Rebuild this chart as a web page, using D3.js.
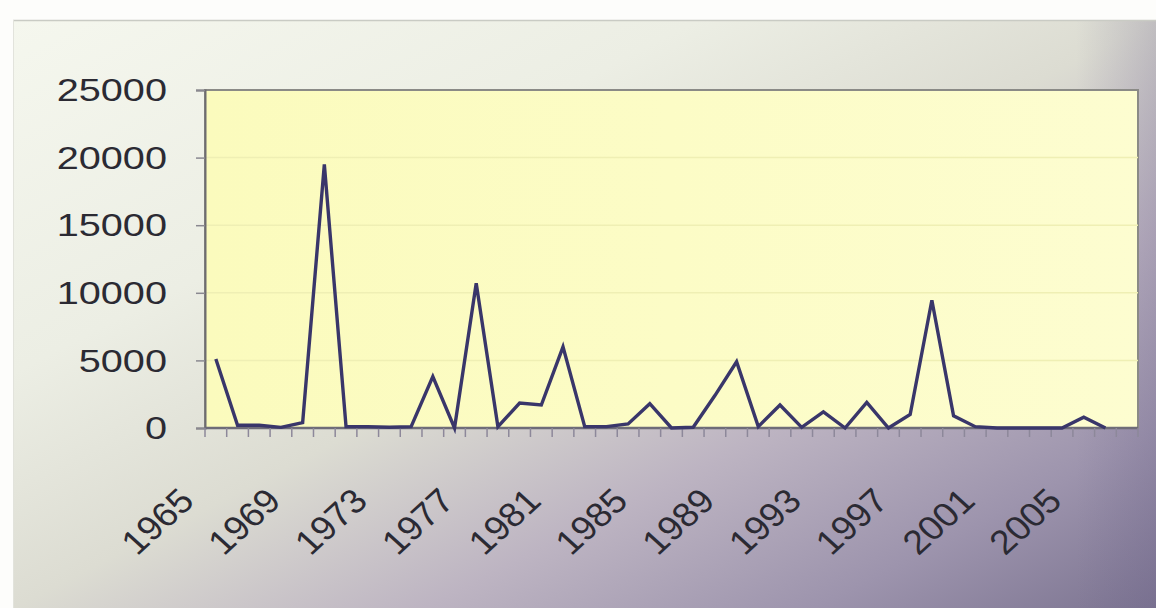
<!DOCTYPE html>
<html>
<head>
<meta charset="utf-8">
<script src="https://cdn.jsdelivr.net/npm/d3@7/dist/d3.min.js"></script>
<style>
  html, body { margin: 0; padding: 0; background: #fdfdfc; }
  svg { display: block; }
  text { font-family: "Liberation Sans", Arial, sans-serif; fill: #2b2a33; }
</style>
</head>
<body>
<svg id="chart" width="1156" height="608"></svg>
<script>
// Yearly values, 1965–2007 (no reading for 2007)
const years = d3.range(1965, 2008);
const values = [
  5100, 200, 200, 50, 400, 19500, 100, 100, 50, 100,
  3800, 0, 10700, 100, 1850, 1700, 6000, 100, 100, 300,
  1800, 0, 50, 2400, 4900, 100, 1700, 50, 1200, 0,
  1900, 0, 1000, 9450, 900, 100, 0, 0, 0, 0,
  800, 0, null
];
const yTicks = [0, 5000, 10000, 15000, 20000, 25000];
const xLabelYears = d3.range(1965, 2008, 4);

const svg = d3.select("#chart");
const W = 1156, H = 608;
const plot = { left: 205, right: 1138, top: 90, bottom: 428 };

// Page background: pale at the upper left, grey-violet towards the lower right
const defs = svg.append("defs");
const bg = defs.append("linearGradient").attr("id", "bg")
  .attr("x1", "0%").attr("y1", "0%").attr("x2", "100%").attr("y2", "100%");
[["0%", "#f5f7ee"], ["30%", "#eceee4"], ["50%", "#dcdcd2"], ["68%", "#bdb4c2"], ["85%", "#9d94ad"], ["100%", "#7c7491"]]
  .forEach(([o, c]) => bg.append("stop").attr("offset", o).attr("stop-color", c));
const side = defs.append("linearGradient").attr("id", "side")
  .attr("x1", "0%").attr("y1", "0%").attr("x2", "100%").attr("y2", "0%");
[["0%", "rgba(110,100,140,0)"], ["93%", "rgba(110,100,140,0)"], ["100%", "rgba(110,100,140,0.25)"]]
  .forEach(([o, c]) => side.append("stop").attr("offset", o).attr("stop-color", c));
const pf = defs.append("linearGradient").attr("id", "plotfill")
  .attr("x1", "0%").attr("y1", "0%").attr("x2", "100%").attr("y2", "0%");
[["0%", "#fbfbbd"], ["50%", "#fcfcc6"], ["100%", "#fdfdd0"]]
  .forEach(([o, c]) => pf.append("stop").attr("offset", o).attr("stop-color", c));

svg.append("rect").attr("width", W).attr("height", H).attr("fill", "#fdfdfb");
svg.append("rect").attr("x", 13).attr("y", 20).attr("width", W - 13).attr("height", H - 20)
  .attr("fill", "url(#bg)");
svg.append("rect").attr("x", 13).attr("y", 20).attr("width", W - 13).attr("height", H - 20)
  .attr("fill", "url(#side)");
svg.append("line").attr("x1", 13).attr("x2", W).attr("y1", 20.5).attr("y2", 20.5)
  .attr("stroke", "#c9cbc4").attr("stroke-width", 1.5);
svg.append("line").attr("x1", 13.5).attr("x2", 13.5).attr("y1", 20).attr("y2", H)
  .attr("stroke", "#e2e3dc").attr("stroke-width", 1);

const x = d3.scaleBand().domain(years).range([plot.left, plot.right]);
const y = d3.scaleLinear().domain([0, 25000]).range([plot.bottom, plot.top]);

// Plot area
svg.append("rect")
  .attr("x", plot.left).attr("y", plot.top)
  .attr("width", plot.right - plot.left).attr("height", plot.bottom - plot.top)
  .attr("fill", "url(#plotfill)")
  .attr("stroke", "#8a8a86").attr("stroke-width", 2);

// Faint horizontal gridlines
svg.append("g").selectAll("line").data(yTicks.slice(1, -1)).join("line")
  .attr("x1", plot.left).attr("x2", plot.right)
  .attr("y1", d => y(d)).attr("y2", d => y(d))
  .attr("stroke", "#efefb4").attr("stroke-width", 1.5);

// Y axis
const yAxis = svg.append("g")
  .attr("transform", `translate(${plot.left},0)`)
  .call(d3.axisLeft(y).tickValues(yTicks).tickSize(9).tickFormat(""));
yAxis.select(".domain").attr("stroke", "#6e6c70").attr("stroke-width", 2);
yAxis.selectAll(".tick line").attr("stroke", "#8a8890").attr("stroke-width", 1.5);

svg.append("g").selectAll("text").data(yTicks).join("text")
  .attr("transform", d => `translate(167,${y(d)}) scale(1.28,1)`)
  .attr("text-anchor", "end")
  .attr("dy", "0.36em")
  .attr("font-size", 31)
  .text(d => d);

// X axis: ticks on category boundaries
const xAxis = svg.append("g")
  .attr("transform", `translate(0,${plot.bottom})`);
xAxis.append("line").attr("x1", plot.left).attr("x2", plot.right)
  .attr("stroke", "#6e6c78").attr("stroke-width", 2.5);
xAxis.selectAll("line.tk").data(years.concat([2008])).join("line").attr("class", "tk")
  .attr("x1", d => d === 2008 ? plot.right : x(d)).attr("x2", d => d === 2008 ? plot.right : x(d))
  .attr("y1", 0).attr("y2", 9)
  .attr("stroke", "#8d889a").attr("stroke-width", 1.5);

svg.append("g").selectAll("text").data(xLabelYears).join("text")
  .attr("transform", d => `translate(${x(d) + x.bandwidth() / 2 - 20},503) scale(1.1,1) rotate(-45)`)
  .attr("text-anchor", "end")
  .attr("font-size", 34)
  .text(d => d);

// Series line
const line = d3.line()
  .defined(d => d.v !== null)
  .x(d => x(d.year) + x.bandwidth() / 2)
  .y(d => y(d.v));
svg.append("path")
  .datum(years.map((yr, i) => ({ year: yr, v: values[i] })))
  .attr("d", line)
  .attr("fill", "none")
  .attr("stroke", "#39366a")
  .attr("stroke-width", 3.4)
  .attr("stroke-linejoin", "miter");
</script>
</body>
</html>
